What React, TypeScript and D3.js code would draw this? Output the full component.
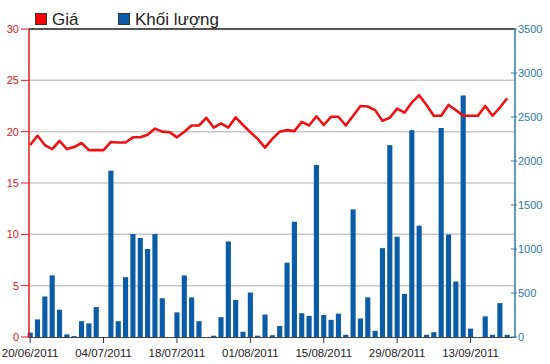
import React from "react";
import * as d3 from "d3";

// Giá (nghìn đồng) theo phiên
const price = [
  18.7, 19.6, 18.7, 18.3, 19.1, 18.3, 18.5, 18.9, 18.2, 18.2,
  18.2, 19.0, 18.95, 18.95, 19.45, 19.45, 19.7, 20.3, 20.0, 19.95,
  19.45, 20.0, 20.6, 20.6, 21.35, 20.4, 20.8, 20.4, 21.4, 20.65,
  19.95, 19.3, 18.45, 19.3, 20.0, 20.15, 20.05, 20.95, 20.6, 21.5,
  20.65, 21.45, 21.45, 20.6, 21.55, 22.5, 22.45, 22.1, 21.05, 21.35,
  22.25, 21.85, 22.85, 23.55, 22.6, 21.55, 21.55, 22.6, 22.1, 21.55,
  21.55, 21.55, 22.5, 21.55, 22.35, 23.25,
];

// Khối lượng theo phiên
const volume = [
  50, 200, 460, 700, 310, 30, 10, 180, 155, 340,
  0, 1890, 180, 680, 1170, 1125, 1000, 1170, 440, 0,
  280, 700, 450, 180, 0, 15, 225, 1085, 420, 60,
  505, 15, 255, 20, 125, 845, 1310, 270, 240, 1955,
  250, 195, 265, 25, 1450, 210, 450, 70, 1010, 2180,
  1140, 490, 2350, 1265, 25, 55, 2375, 1165, 630, 2745,
  95, 0, 235, 25, 385, 25,
];

const tickIndex = [0, 10, 20, 30, 40, 50, 60];
const tickLabels = [
  "20/06/2011", "04/07/2011", "18/07/2011", "01/08/2011",
  "15/08/2011", "29/08/2011", "13/09/2011",
];
const priceTicks = [0, 5, 10, 15, 20, 25, 30];
const volumeTicks = [0, 500, 1000, 1500, 2000, 2500, 3000, 3500];

const W = 550;
const H = 364;
const left = 29;
const right = 515;
const top = 29;
const bottom = 337;

const RED = "#e8141a";
const BLUE = "#0a5ca6";
const AXIS_BLUE = "#2b7bab";
const FONT = "'Liberation Sans', Arial, sans-serif";

export default function App() {
  const idx = price.map((_, i) => String(i));
  const x = d3.scaleBand().domain(idx).range([27.6, 509.8]).paddingInner(0.3);
  const xc = (i: number) => (x(String(i)) as number) + x.bandwidth() / 2;
  const yP = d3.scaleLinear().domain([0, 30]).range([bottom, top]);
  const yV = d3.scaleLinear().domain([0, 3500]).range([bottom, top]);

  const line = d3
    .line<number>()
    .x((_, i) => xc(i))
    .y((d) => yP(d));

  return (
    <svg
      width={W}
      height={H}
      viewBox={`0 0 ${W} ${H}`}
      style={{ position: "absolute", left: 0, top: 0, background: "#fff" }}
      fontFamily={FONT}
    >
      {/* legend */}
      <rect x={35.5} y={13.5} width={11} height={11} fill="#ff0000" stroke="#333" />
      <text x={52} y={25} fontSize={17} fill="#222">Giá</text>
      <rect x={118.5} y={13.5} width={11} height={11} fill={BLUE} stroke="#333" />
      <text x={135} y={25} fontSize={17} fill="#222">Khối lượng</text>

      {/* grid */}
      {priceTicks.slice(1, -1).map((t) => (
        <line key={t} x1={left} x2={right} y1={yP(t)} y2={yP(t)} stroke="#c8c8c8" strokeWidth={1.5} />
      ))}

      {/* bars */}
      {volume.map((v, i) => (
        <rect
          key={i}
          x={x(String(i))}
          y={yV(v)}
          width={x.bandwidth()}
          height={bottom - yV(v)}
          fill={BLUE}
        />
      ))}

      {/* price line */}
      <path d={line(price) ?? ""} fill="none" stroke="#ee1111" strokeWidth={2.6} strokeLinejoin="round" />

      {/* frame */}
      <line x1={left} x2={right} y1={top} y2={top} stroke="#555" strokeWidth={2} />
      <line x1={left} x2={right} y1={bottom + 0.5} y2={bottom + 0.5} stroke="#444" strokeWidth={1} />
      <line x1={left} x2={left} y1={top} y2={bottom + 1} stroke={RED} strokeWidth={1.5} />
      <line x1={right} x2={right} y1={top} y2={bottom + 1} stroke={AXIS_BLUE} strokeWidth={1.5} />

      {/* left axis */}
      {priceTicks.map((t) => (
        <g key={t}>
          <line x1={21} x2={left} y1={yP(t)} y2={yP(t)} stroke={RED} strokeWidth={1} />
          <text x={19} y={yP(t) + 4} textAnchor="end" fontSize={11} fill={RED}>{t}</text>
        </g>
      ))}

      {/* right axis */}
      {volumeTicks.map((t) => (
        <g key={t}>
          <line x1={right - 4} x2={right + 2} y1={yV(t)} y2={yV(t)} stroke={AXIS_BLUE} strokeWidth={1} />
          <text x={518} y={yV(t) + 4} fontSize={11} fill={AXIS_BLUE}>{t}</text>
        </g>
      ))}

      {/* x axis */}
      {tickIndex.map((ti, k) => (
        <g key={ti}>
          <line x1={xc(ti)} x2={xc(ti)} y1={bottom} y2={bottom + 6} stroke="#333" strokeWidth={1} />
          <text x={xc(ti)} y={357} textAnchor="middle" fontSize={11.5} fill="#222">{tickLabels[k]}</text>
        </g>
      ))}
    </svg>
  );
}
